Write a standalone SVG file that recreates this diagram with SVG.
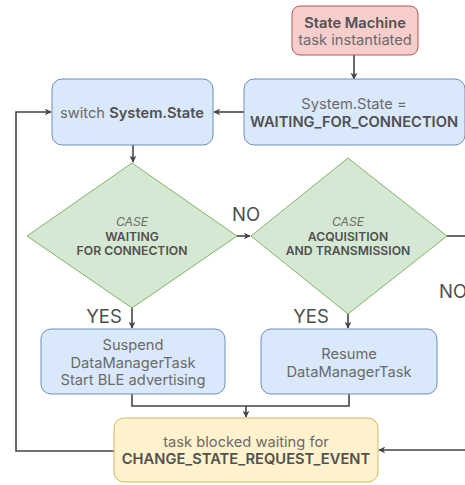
<svg xmlns="http://www.w3.org/2000/svg" width="465" height="485" viewBox="0 0 465 485">
  <style>
    text { font-family: Inter, "Noto Sans", "Liberation Sans", sans-serif; text-anchor: middle; fill: #6a6a6a; font-size: 14.7px; }
    .b { font-weight: 600; fill: #505050; }
    .blue { fill: #dae8fc; stroke: #6c8ebf; stroke-width: 1; }
    .red { fill: #f8cecc; stroke: #b85450; stroke-width: 1; }
    .yel { fill: #fff2cc; stroke: #d6b656; stroke-width: 1; }
    .grn { fill: #d5e8d4; stroke: #82b366; stroke-width: 1; }
    .dia { font-size: 12.2px; }
    .lbl { font-size: 18.5px; fill: #4d4d4d; }
    .edge { fill: none; stroke: #444444; stroke-width: 1.6; }
  </style>
  <defs>
    <marker id="arr" viewBox="0 0 10 10" refX="9" refY="5" markerWidth="7" markerHeight="7" orient="auto" markerUnits="userSpaceOnUse">
      <path d="M0,0 L10,5 L0,10 L3,5 Z" fill="#444444"/>
    </marker>
  </defs>
  <rect width="465" height="485" fill="#ffffff"/>

  <g id="connectors">
    <path class="edge" d="M354,55 V79" marker-end="url(#arr)"/>
    <path class="edge" d="M244,112 H214" marker-end="url(#arr)"/>
    <path class="edge" d="M133,145 V162" marker-end="url(#arr)"/>
    <path class="edge" d="M237,236 H250" marker-end="url(#arr)"/>
    <path class="edge" d="M447,236 H465"/>
    <path class="edge" d="M132,308 V328" marker-end="url(#arr)"/>
    <path class="edge" d="M348,314 V328" marker-end="url(#arr)"/>
    <path class="edge" d="M132,394 V406 H349 V394"/>
    <path class="edge" d="M246,406 V417" marker-end="url(#arr)"/>
    <path class="edge" d="M465,450 H379" marker-end="url(#arr)"/>
    <path class="edge" d="M114,451 H16 V112 H51" marker-end="url(#arr)"/>
  </g>

  <g id="edge-labels">
    <text class="lbl" x="246" y="221">NO</text>
    <text class="lbl" x="453" y="298">NO</text>
    <text class="lbl" x="104" y="323">YES</text>
    <text class="lbl" x="311" y="323">YES</text>
  </g>

  <g id="start">
    <rect class="red" x="292" y="6" width="126" height="49" rx="8"/>
    <text class="b" x="355" y="28">State Machine</text>
    <text x="355" y="45">task instantiated</text>
  </g>

  <g id="init-state">
    <rect class="blue" x="244" y="79" width="221" height="66" rx="10"/>
    <text x="354" y="109">System.State =</text>
    <text class="b" x="354" y="127">WAITING_FOR_CONNECTION</text>
  </g>

  <g id="switch">
    <rect class="blue" x="52" y="79" width="161" height="66" rx="10"/>
    <text x="132" y="118">switch <tspan class="b">System.State</tspan></text>
  </g>

  <g id="case-waiting">
    <polygon class="grn" points="132,163 237,236 132,308 27,236"/>
    <text class="dia" x="132" y="226" font-style="italic">CASE</text>
    <text class="dia b" x="132" y="241">WAITING</text>
    <text class="dia b" x="132" y="255">FOR CONNECTION</text>
  </g>

  <g id="case-acquisition">
    <polygon class="grn" points="348,158 447,236 348,314 251,236"/>
    <text class="dia" x="348" y="226" font-style="italic">CASE</text>
    <text class="dia b" x="348" y="241">ACQUISITION</text>
    <text class="dia b" x="348" y="255">AND TRANSMISSION</text>
  </g>

  <g id="suspend">
    <rect class="blue" x="41" y="329" width="184" height="65" rx="10"/>
    <text x="133" y="350">Suspend</text>
    <text x="133" y="368">DataManagerTask</text>
    <text x="133" y="385">Start BLE advertising</text>
  </g>

  <g id="resume">
    <rect class="blue" x="261" y="329" width="176" height="65" rx="10"/>
    <text x="349" y="359">Resume</text>
    <text x="349" y="377">DataManagerTask</text>
  </g>

  <g id="wait-event">
    <rect class="yel" x="114" y="418" width="264" height="64" rx="10"/>
    <text x="246" y="447">task blocked waiting for</text>
    <text class="b" x="246" y="464">CHANGE_STATE_REQUEST_EVENT</text>
  </g>
</svg>
